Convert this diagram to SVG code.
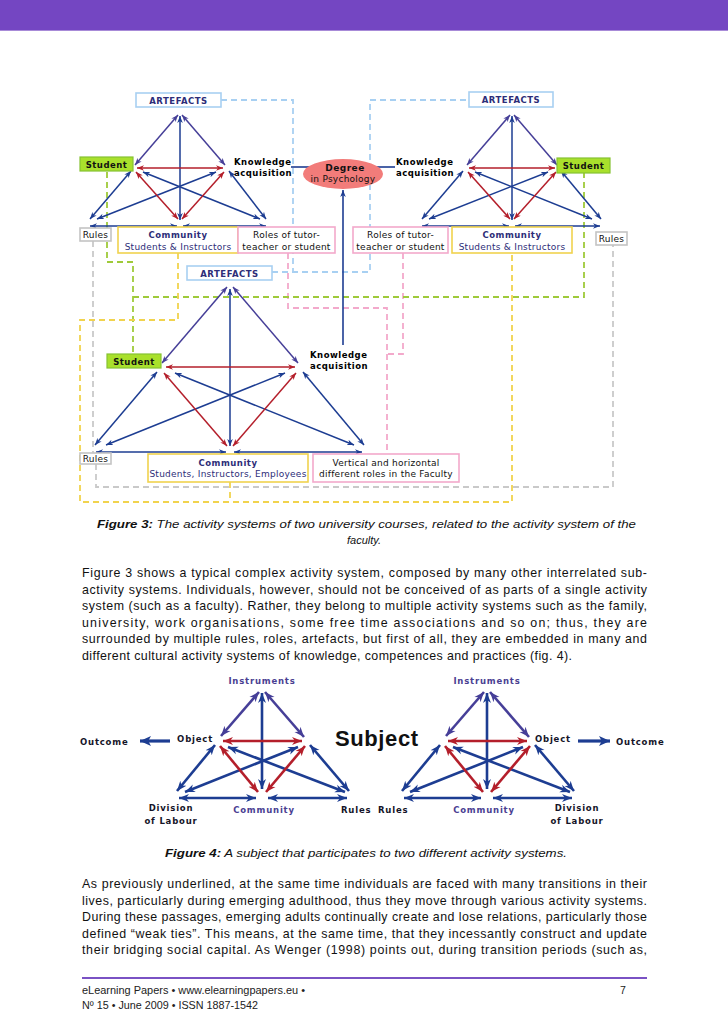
<svg xmlns="http://www.w3.org/2000/svg" width="728" height="1030" viewBox="0 0 728 1030">
<defs>
<style>
.b3{stroke:#1d3d92;stroke-width:1.5;fill:none;marker-start:url(#mb3);marker-end:url(#mb3)}
.p3{stroke:#463f98;stroke-width:1.5;fill:none;marker-start:url(#mp3);marker-end:url(#mp3)}
.r3{stroke:#b41f2b;stroke-width:1.5;fill:none;marker-start:url(#mr3);marker-end:url(#mr3)}
.b4{stroke:#1d3d92;stroke-width:2.6;fill:none;marker-start:url(#mb4);marker-end:url(#mb4)}
.p4{stroke:#463f98;stroke-width:2.6;fill:none;marker-start:url(#mp4);marker-end:url(#mp4)}
.r4{stroke:#b41f2b;stroke-width:2.6;fill:none;marker-start:url(#mr4);marker-end:url(#mr4)}
.one{stroke:#1d3d92;stroke-width:1.6;fill:none;marker-end:url(#mb3)}
.out{stroke:#1d3d92;stroke-width:3.2;fill:none;marker-end:url(#mo)}
.d{fill:none;stroke-width:1.8;stroke-dasharray:6 4}
.dblue{stroke:#a8d0f2}.dpink{stroke:#f3a9cb}.dgreen{stroke:#9fca3a}.dyel{stroke:#f1d34e}.dgray{stroke:#c9c9c9}
.box{fill:#fff;stroke-width:1.6}
.l{font-family:"DejaVu Sans",sans-serif;font-size:9px;letter-spacing:0.25px;fill:#111}
.bd{font-weight:bold;font-size:8.5px;letter-spacing:0.5px}
.nv{fill:#2d2d78}
.ka{font-family:"DejaVu Sans",sans-serif;font-size:8.5px;font-weight:bold;letter-spacing:0.5px;fill:#000}
.f4{font-family:"DejaVu Sans",sans-serif;font-size:8.5px;font-weight:bold;letter-spacing:0.8px;fill:#141428}
.f4p{fill:#4a4092}
.tx{font-family:"Liberation Sans",Arial,sans-serif;font-size:12.4px;fill:#111}
.cap{font-family:"Liberation Sans",Arial,sans-serif;font-size:11px;font-style:italic;fill:#111}
.ft{font-family:"Liberation Sans",Arial,sans-serif;font-size:10.6px;fill:#222}
</style>
<marker id="mb3" viewBox="0 0 10 10" refX="10" refY="5" markerWidth="7" markerHeight="7" markerUnits="userSpaceOnUse" orient="auto-start-reverse"><path d="M0,1 L10,5 L0,9 L3,5z" fill="#1d3d92"/></marker>
<marker id="mp3" viewBox="0 0 10 10" refX="10" refY="5" markerWidth="7" markerHeight="7" markerUnits="userSpaceOnUse" orient="auto-start-reverse"><path d="M0,1 L10,5 L0,9 L3,5z" fill="#463f98"/></marker>
<marker id="mr3" viewBox="0 0 10 10" refX="10" refY="5" markerWidth="7" markerHeight="7" markerUnits="userSpaceOnUse" orient="auto-start-reverse"><path d="M0,1 L10,5 L0,9 L3,5z" fill="#b41f2b"/></marker>
<marker id="mb4" viewBox="0 0 10 10" refX="10" refY="5" markerWidth="10" markerHeight="10" markerUnits="userSpaceOnUse" orient="auto-start-reverse"><path d="M0,1 L10,5 L0,9 L3,5z" fill="#1d3d92"/></marker>
<marker id="mp4" viewBox="0 0 10 10" refX="10" refY="5" markerWidth="10" markerHeight="10" markerUnits="userSpaceOnUse" orient="auto-start-reverse"><path d="M0,1 L10,5 L0,9 L3,5z" fill="#463f98"/></marker>
<marker id="mr4" viewBox="0 0 10 10" refX="10" refY="5" markerWidth="10" markerHeight="10" markerUnits="userSpaceOnUse" orient="auto-start-reverse"><path d="M0,1 L10,5 L0,9 L3,5z" fill="#b41f2b"/></marker>
<marker id="mo" viewBox="0 0 10 10" refX="10" refY="5" markerWidth="11" markerHeight="11" markerUnits="userSpaceOnUse" orient="auto"><path d="M0,0.5 L10,5 L0,9.5 L2.5,5z" fill="#1d3d92"/></marker>
</defs>
<rect width="728" height="1030" fill="#fff"/>
<g id="header"><rect x="0" y="0" width="728" height="30" fill="#7446c2"/><line x1="0" y1="30.5" x2="728" y2="30.5" stroke="#a88bd8" stroke-width="1"/></g>

<!-- Figure 3 connectors -->
<g id="connectors-fig3">
<path class="d dblue" d="M221,100 H293 V272"/>
<path class="d dblue" d="M272,272 H370 V100 H469"/>
<path class="d dpink" d="M288,253 V308 H387 V454"/>
<path class="d dpink" d="M403,253 V354 H387"/>
<path class="d dgreen" d="M107,172 V262 H133 V354"/>
<path class="d dgreen" d="M133,297 H584 V173"/>
<path class="d dyel" d="M178,253 V320 H80 V502 H512 V253"/>
<path class="d dyel" d="M230,482 V502"/>
<path class="d dgray" d="M93,241 V453"/>
<path class="d dgray" d="M96,464 V487 H613 V245"/>
<path class="one" d="M291,167 H322"/>
<path class="one" d="M395,167 H365"/>
<path class="one" d="M343,345 V190"/>
<g id="tri-tl-lines">
<path class="p3" d="M178,115 L135,165"/>
<path class="p3" d="M182,115 L225,165"/>
<path class="b3" d="M180,116 V220"/>
<path class="b3" d="M131,171 L90,219"/>
<path class="b3" d="M229,171 L266,219"/>
<path class="b3" d="M90,226 H177"/>
<path class="b3" d="M183,226 H266"/>
<path class="b3" d="M97,219 L216,172"/>
<path class="b3" d="M143,172 L260,219"/>
<path class="r3" d="M137,168 H223"/>
<path class="r3" d="M136,172 L178,219"/>
<path class="r3" d="M224,172 L182,219"/>
</g>
<g id="tri-tr-lines" transform="translate(332,0)">
<path class="p3" d="M178,115 L135,165"/>
<path class="p3" d="M182,115 L225,165"/>
<path class="b3" d="M180,116 V220"/>
<path class="b3" d="M131,171 L90,219"/>
<path class="b3" d="M229,171 L269,219"/>
<path class="b3" d="M90,226 H177"/>
<path class="b3" d="M183,226 H268"/>
<path class="b3" d="M97,219 L216,172"/>
<path class="b3" d="M143,172 L260,219"/>
<path class="r3" d="M137,168 H223"/>
<path class="r3" d="M136,172 L178,219"/>
<path class="r3" d="M224,172 L182,219"/>
</g>
<g id="tri-b-lines">
<path class="p3" d="M227,287 L162,363"/>
<path class="p3" d="M233,287 L298,363"/>
<path class="b3" d="M230,289 V446"/>
<path class="b3" d="M157,372 L95,445"/>
<path class="b3" d="M303,372 L364,445"/>
<path class="b3" d="M96,452 H226"/>
<path class="b3" d="M234,452 H362"/>
<path class="b3" d="M106,445 L285,373"/>
<path class="b3" d="M175,373 L354,445"/>
<path class="r3" d="M166,367 H295"/>
<path class="r3" d="M164,373 L227,446"/>
<path class="r3" d="M296,373 L233,446"/>
</g>
</g>

<!-- Figure 3 nodes: top-left -->
<g id="tl-artefacts"><rect class="box" x="136" y="93" width="85" height="14" stroke="#a8d0f2"/><text class="l bd nv" x="178.5" y="103.5" text-anchor="middle">ARTEFACTS</text></g>
<g id="tl-student"><rect x="80" y="157" width="53" height="14" fill="#a9e02c" stroke="#86c232" stroke-width="1.2"/><text class="l bd" x="106.5" y="167.5" text-anchor="middle">Student</text></g>
<g id="tl-knowledge"><text class="ka" x="234" y="164.5">Knowledge</text><text class="ka" x="234" y="175.5">acquisition</text></g>
<g id="tl-rules"><rect class="box" x="80" y="228" width="31" height="13" stroke="#c4c4c4"/><text class="l" x="95.5" y="238" text-anchor="middle">Rules</text></g>
<g id="tl-community"><rect class="box" x="118" y="227" width="120" height="26" stroke="#f1d34e"/><text class="l bd nv" x="178" y="238" text-anchor="middle">Community</text><text class="l nv" x="178" y="249.5" text-anchor="middle">Students &amp; Instructors</text></g>
<g id="tl-roles"><rect class="box" x="238" y="227" width="97" height="26" stroke="#f3a9cb"/><text class="l" x="286.5" y="238" text-anchor="middle">Roles of tutor-</text><text class="l" x="286.5" y="249.5" text-anchor="middle">teacher or student</text></g>

<!-- Degree -->
<g id="degree"><ellipse cx="343" cy="174" rx="40" ry="15" fill="#f27c7a"/><text class="l bd" x="345" y="170.5" text-anchor="middle" style="font-size:9px">Degree</text><text class="l" x="343" y="182" text-anchor="middle">in Psychology</text></g>

<!-- top-right -->
<g id="tr-artefacts"><rect class="box" x="469" y="92" width="84" height="15" stroke="#a8d0f2"/><text class="l bd nv" x="511" y="103" text-anchor="middle">ARTEFACTS</text></g>
<g id="tr-knowledge"><text class="ka" x="396" y="164.5">Knowledge</text><text class="ka" x="396" y="175.5">acquisition</text></g>
<g id="tr-student"><rect x="557" y="158" width="53" height="15" fill="#a9e02c" stroke="#86c232" stroke-width="1.2"/><text class="l bd" x="583.5" y="168.5" text-anchor="middle">Student</text></g>
<g id="tr-roles"><rect class="box" x="353" y="227" width="95" height="26" stroke="#f3a9cb"/><text class="l" x="400.5" y="238" text-anchor="middle">Roles of tutor-</text><text class="l" x="400.5" y="249.5" text-anchor="middle">teacher or student</text></g>
<g id="tr-community"><rect class="box" x="452" y="227" width="120" height="26" stroke="#f1d34e"/><text class="l bd nv" x="512" y="238" text-anchor="middle">Community</text><text class="l nv" x="512" y="249.5" text-anchor="middle">Students &amp; Instructors</text></g>
<g id="tr-rules"><rect class="box" x="596" y="232" width="31" height="13" stroke="#c4c4c4"/><text class="l" x="611.5" y="242" text-anchor="middle">Rules</text></g>

<!-- bottom -->
<g id="b-artefacts"><rect class="box" x="187" y="266" width="85" height="14" stroke="#a8d0f2"/><text class="l bd nv" x="229.5" y="276.5" text-anchor="middle">ARTEFACTS</text></g>
<g id="b-student"><rect x="107" y="354" width="54" height="14" fill="#a9e02c" stroke="#86c232" stroke-width="1.2"/><text class="l bd" x="134" y="364.5" text-anchor="middle">Student</text></g>
<g id="b-knowledge"><text class="ka" x="310" y="357.5">Knowledge</text><text class="ka" x="310" y="368.5">acquisition</text></g>
<g id="b-rules"><rect class="box" x="80" y="453" width="31" height="11" stroke="#c4c4c4"/><text class="l" x="95.5" y="462" text-anchor="middle">Rules</text></g>
<g id="b-community"><rect class="box" x="148" y="454" width="160" height="28" stroke="#f1d34e"/><text class="l bd nv" x="228" y="465.5" text-anchor="middle">Community</text><text class="l nv" x="228" y="477" text-anchor="middle">Students, Instructors, Employees</text></g>
<g id="b-roles"><rect class="box" x="313" y="454" width="146" height="28" stroke="#f3a9cb"/><text class="l" x="386" y="465.5" text-anchor="middle">Vertical and horizontal</text><text class="l" x="386" y="477" text-anchor="middle">different roles in the Faculty</text></g>

<!-- captions and text -->
<g id="caption3">
<text class="cap" x="97" y="528" textLength="539" lengthAdjust="spacingAndGlyphs"><tspan font-weight="bold">Figure 3:</tspan> The activity systems of two university courses, related to the activity system of the</text>
<text class="cap" x="364" y="544" text-anchor="middle">faculty.</text>
</g>
<g id="para1">
<text class="tx" x="82" y="577" textLength="565" lengthAdjust="spacing">Figure 3 shows a typical complex activity system, composed by many other interrelated sub-</text>
<text class="tx" x="82" y="593.5" textLength="565" lengthAdjust="spacing">activity systems. Individuals, however, should not be conceived of as parts of a single activity</text>
<text class="tx" x="82" y="610" textLength="565" lengthAdjust="spacing">system (such as a faculty). Rather, they belong to multiple activity systems such as the family,</text>
<text class="tx" x="82" y="626.5" textLength="565" lengthAdjust="spacing">university, work organisations, some free time associations and so on; thus, they are</text>
<text class="tx" x="82" y="643" textLength="565" lengthAdjust="spacing">surrounded by multiple rules, roles, artefacts, but first of all, they are embedded in many and</text>
<text class="tx" x="82" y="659.5" textLength="490" lengthAdjust="spacing">different cultural activity systems of knowledge, competences and practices (fig. 4).</text>
</g>

<!-- Figure 4 -->
<g id="connectors-fig4">
<g id="f4-left-lines">
<path class="p4" d="M259,692 L221,736"/>
<path class="p4" d="M265,692 L304,737"/>
<path class="b4" d="M262,693 V789"/>
<path class="b4" d="M215,745 L177,791"/>
<path class="b4" d="M310,745 L349,791"/>
<path class="b4" d="M179,798 H256"/>
<path class="b4" d="M268,798 H347"/>
<path class="b4" d="M185,792 L298,747"/>
<path class="b4" d="M228,747 L345,792"/>
<path class="r4" d="M223,741 H302"/>
<path class="r4" d="M220,746 L258,792"/>
<path class="r4" d="M305,746 L266,792"/>
</g>
<g id="f4-right-lines" transform="translate(225,0)">
<path class="p4" d="M259,692 L221,736"/>
<path class="p4" d="M265,692 L304,737"/>
<path class="b4" d="M262,693 V789"/>
<path class="b4" d="M215,745 L177,791"/>
<path class="b4" d="M310,745 L349,791"/>
<path class="b4" d="M179,798 H256"/>
<path class="b4" d="M268,798 H347"/>
<path class="b4" d="M185,792 L298,747"/>
<path class="b4" d="M228,747 L345,792"/>
<path class="r4" d="M223,741 H302"/>
<path class="r4" d="M220,746 L258,792"/>
<path class="r4" d="M305,746 L266,792"/>
</g>
<path class="out" d="M170,741 H140"/>
<path class="out" d="M578,741 H610"/>
</g>
<g id="f4-instruments-l"><text class="f4 f4p" x="262" y="684" text-anchor="middle">Instruments</text></g>
<g id="f4-instruments-r"><text class="f4 f4p" x="487" y="684" text-anchor="middle">Instruments</text></g>
<g id="f4-outcome-l"><text class="f4" x="80" y="745">Outcome</text></g>
<g id="f4-object-l"><text class="f4" x="213" y="742" text-anchor="end">Object</text></g>
<g id="f4-subject"><text x="335" y="746" font-family="Liberation Sans, Arial, sans-serif" font-size="22" font-weight="bold" letter-spacing="0.6" fill="#111">Subject</text></g>
<g id="f4-object-r"><text class="f4" x="535" y="742">Object</text></g>
<g id="f4-outcome-r"><text class="f4" x="616" y="745">Outcome</text></g>
<g id="f4-division-l"><text class="f4" x="171" y="811" text-anchor="middle">Division</text><text class="f4" x="171" y="824" text-anchor="middle">of Labour</text></g>
<g id="f4-community-l"><text class="f4 f4p" x="264" y="812.5" text-anchor="middle">Community</text></g>
<g id="f4-rules-l"><text class="f4" x="341" y="812.5">Rules</text></g>
<g id="f4-rules-r"><text class="f4" x="378" y="812.5">Rules</text></g>
<g id="f4-community-r"><text class="f4 f4p" x="484" y="812.5" text-anchor="middle">Community</text></g>
<g id="f4-division-r"><text class="f4" x="577" y="811" text-anchor="middle">Division</text><text class="f4" x="577" y="824" text-anchor="middle">of Labour</text></g>

<g id="caption4"><text class="cap" x="165" y="857" textLength="402" lengthAdjust="spacingAndGlyphs"><tspan font-weight="bold">Figure 4:</tspan> A subject that participates to two different activity systems.</text></g>
<g id="para2">
<text class="tx" x="82" y="888" textLength="565" lengthAdjust="spacing">As previously underlined, at the same time individuals are faced with many transitions in their</text>
<text class="tx" x="82" y="904.5" textLength="565" lengthAdjust="spacing">lives, particularly during emerging adulthood, thus they move through various activity systems.</text>
<text class="tx" x="82" y="921" textLength="565" lengthAdjust="spacing">During these passages, emerging adults continually create and lose relations, particularly those</text>
<text class="tx" x="82" y="937.5" textLength="565" lengthAdjust="spacing">defined “weak ties”. This means, at the same time, that they incessantly construct and update</text>
<text class="tx" x="82" y="954" textLength="565" lengthAdjust="spacing">their bridging social capital. As Wenger (1998) points out, during transition periods (such as,</text>
</g>
<g id="footer">
<line x1="82" y1="978" x2="647" y2="978" stroke="#7a52c4" stroke-width="2"/>
<text class="ft" x="82" y="994" textLength="223" lengthAdjust="spacingAndGlyphs">eLearning Papers • www.elearningpapers.eu •</text>
<text class="ft" x="82" y="1009" textLength="176" lengthAdjust="spacingAndGlyphs">Nº 15 • June 2009 • ISSN 1887-1542</text>
<text class="ft" x="620" y="994">7</text>
</g>
</svg>
